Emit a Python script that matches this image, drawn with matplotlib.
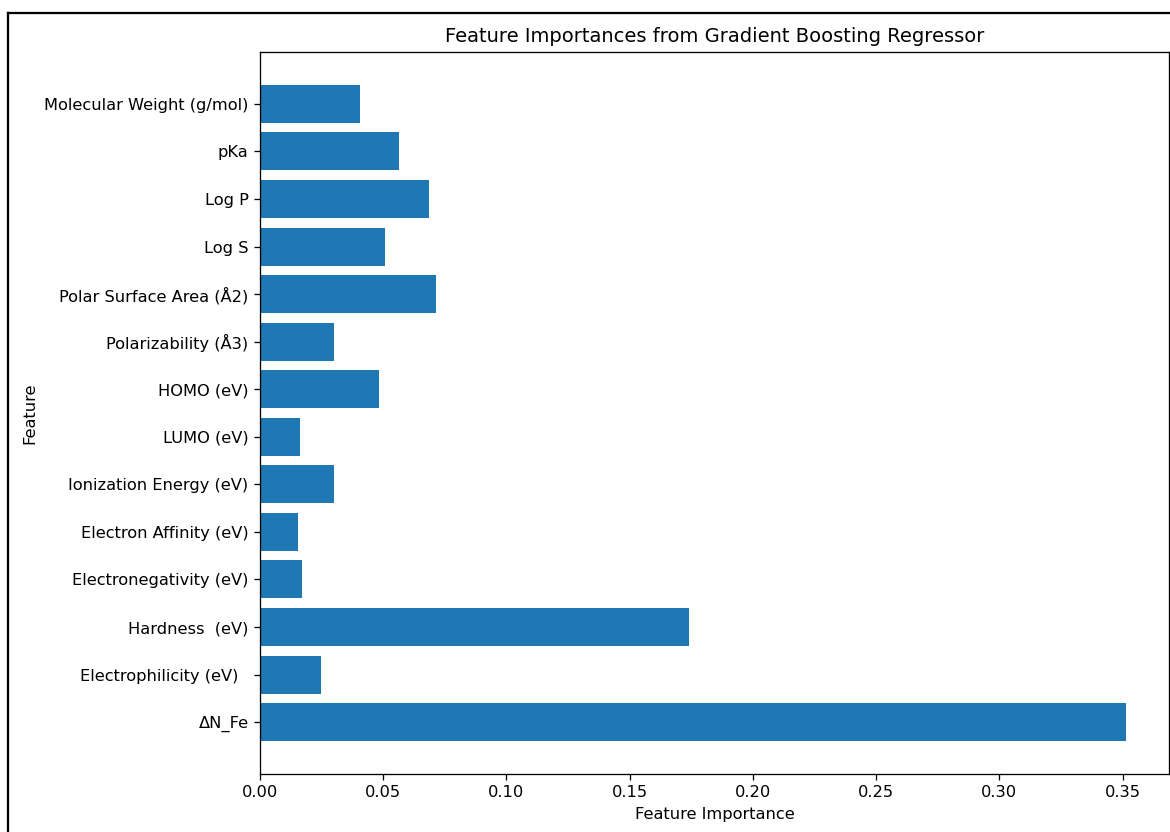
import matplotlib
matplotlib.use("Agg")
import matplotlib.pyplot as plt
from matplotlib.lines import Line2D

# feature importances, bottom bar first
features = [
    "ΔN_Fe",
    "Electrophilicity (eV)  ",
    "Hardness  (eV)",
    "Electronegativity (eV)",
    "Electron Affinity (eV)",
    "Ionization Energy (eV)",
    "LUMO (eV)",
    "HOMO (eV)",
    "Polarizability (Å3)",
    "Polar Surface Area (Å2)",
    "Log S",
    "Log P",
    "pKa",
    "Molecular Weight (g/mol)",
]
importances = [
    0.3513, 0.0249, 0.1741, 0.0172, 0.0154, 0.0302, 0.0164,
    0.0482, 0.0302, 0.0716, 0.0506, 0.0687, 0.0564, 0.0407,
]

W, H = 1170, 832
DPI = 117
fig = plt.figure(figsize=(W / DPI, H / DPI), dpi=DPI)
ax = fig.add_axes([260 / W, 1 - 774 / H, 909 / W, 722 / H])

ax.barh(features, importances, color="#1f77b4")
ax.set_xlabel("Feature Importance")
ax.set_ylabel("Feature")
ax.set_title("Feature Importances from Gradient Boosting Regressor")

# frame around the figure (top and left edges)
top = 1 - 13 / H
left = 7.5 / W
fig.add_artist(Line2D([left, 1.0], [top, top],
                      transform=fig.transFigure, color="black", lw=1.4))
fig.add_artist(Line2D([left, left], [0.0, top],
                      transform=fig.transFigure, color="black", lw=1.4))

fig.savefig("out.png", dpi=DPI)
plt.close(fig)
